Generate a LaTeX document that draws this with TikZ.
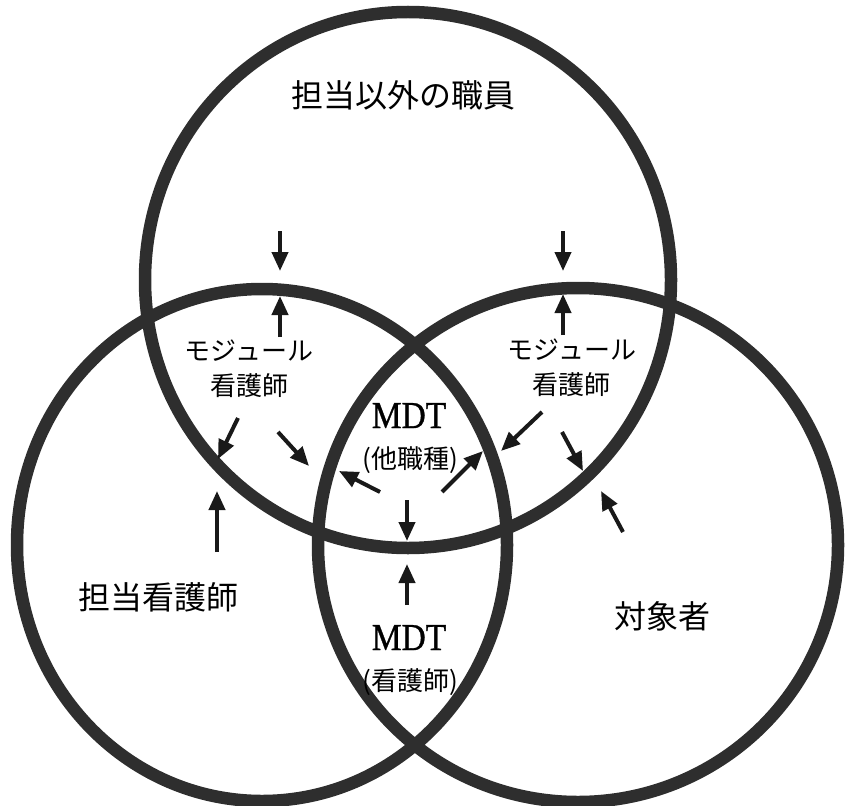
\documentclass[tikz,border=0pt]{standalone}
\usepackage{fontspec}
\setmainfont{Liberation Serif}
\newfontfamily\jp{Noto Sans CJK JP}
\newfontfamily\mdtfont{Liberation Serif}[FakeStretch=0.88, FakeBold=0.8]
\usetikzlibrary{arrows.meta}
\tikzset{
  ring/.style={draw=black!82, line width=12.5pt},
  arr/.style={draw=black!90, line width=4pt, -{Triangle[length=19pt,width=16pt]}, shorten >=0pt},
  bigjp/.style={anchor=base, inner sep=0pt, font=\jp\fontsize{32}{36}\selectfont},
  smalljp/.style={anchor=base, inner sep=0pt, font=\jp\fontsize{26}{30}\selectfont},
  mdt/.style={anchor=base, inner sep=0pt, font=\mdtfont\fontsize{38}{42}\selectfont},
}
\begin{document}
\begin{tikzpicture}[x=1pt,y=-1pt]
\useasboundingbox (0,0) rectangle (845,805);
% circles
\draw[ring] (408,280) ellipse [x radius=263pt, y radius=268pt];
\draw[ring] (262,545) ellipse [x radius=245pt, y radius=256pt];
\draw[ring] (578,545) ellipse [x radius=260pt, y radius=257pt];
% labels
\node[bigjp] (staff) at (403,108) {担当以外の職員};
\node[smalljp] (modL1) at (249,360) {モジュール};
\node[smalljp] (modL2) at (249,395) {看護師};
\node[smalljp] (modR1) at (572,359) {モジュール};
\node[smalljp] (modR2) at (571,394) {看護師};
\node[mdt] (mdt1) at (409,428) {MDT};
\node[smalljp] (mdt1b) at (410,468) {(他職種)};
\node[mdt] (mdt2) at (409,650) {MDT};
\node[smalljp] (mdt2b) at (410,690) {(看護師)};
\node[bigjp] (nurse) at (158,609) {担当看護師};
\node[bigjp] (client) at (662,628) {対象者};
% arrow endpoints
\coordinate (a1s) at (280,231); \coordinate (a1e) at (280,271);
\coordinate (a2s) at (280,337); \coordinate (a2e) at (280,296);
\coordinate (a3s) at (563,231); \coordinate (a3e) at (563,271);
\coordinate (a4s) at (563,335); \coordinate (a4e) at (563,294);
\coordinate (a5s) at (238,418); \coordinate (a5e) at (218,459);
\coordinate (a6s) at (278,432); \coordinate (a6e) at (309,466);
\coordinate (a7s) at (380,492); \coordinate (a7e) at (339,471);
\coordinate (a8s) at (442,492); \coordinate (a8e) at (483,451);
\coordinate (a9s) at (407,500); \coordinate (a9e) at (407,541);
\coordinate (a10s) at (407,605); \coordinate (a10e) at (407,564);
\coordinate (a11s) at (542,412); \coordinate (a11e) at (501,451);
\coordinate (a12s) at (562,432); \coordinate (a12e) at (583,471);
\coordinate (a13s) at (217,552); \coordinate (a13e) at (217,491);
\coordinate (a14s) at (623,532); \coordinate (a14e) at (601,491);
\foreach \i in {1,...,14} \draw[arr] (a\i s) -- (a\i e);
\end{tikzpicture}
\end{document}
